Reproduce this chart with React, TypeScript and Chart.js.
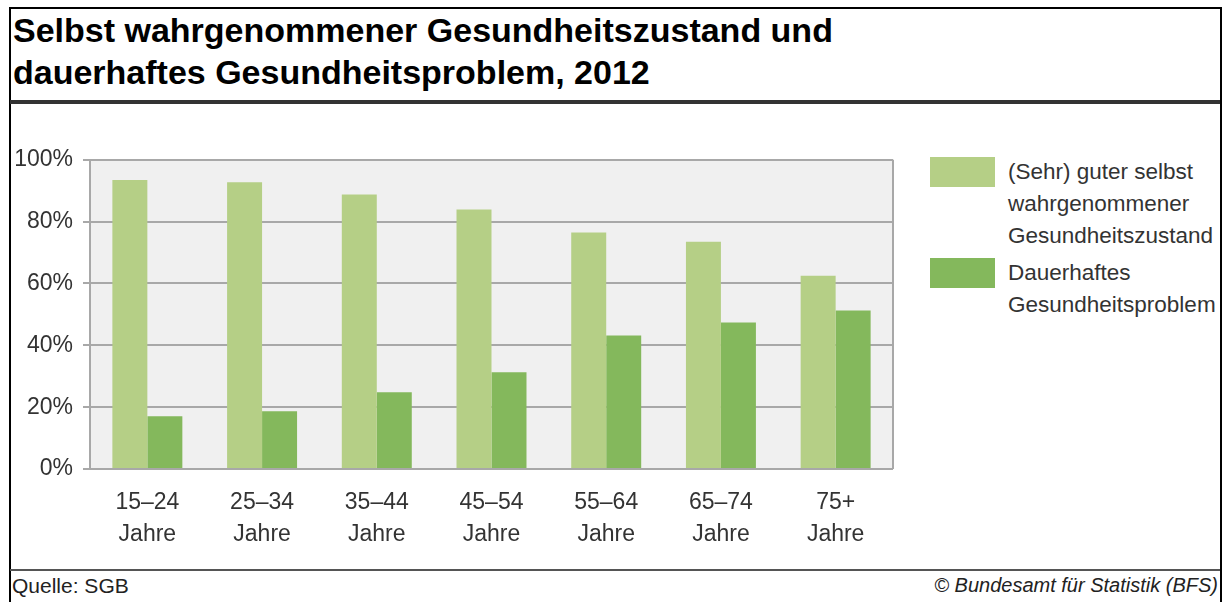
import React, { useEffect, useRef } from "react";
import { Chart, registerables } from "chart.js";

Chart.register(...registerables);

const categories: string[][] = [
  ["15–24", "Jahre"],
  ["25–34", "Jahre"],
  ["35–44", "Jahre"],
  ["45–54", "Jahre"],
  ["55–64", "Jahre"],
  ["65–74", "Jahre"],
  ["75+", "Jahre"],
];
const guterZustand: number[] = [93.5, 92.7, 88.8, 83.9, 76.5, 73.5, 62.5];
const dauerhaftesProblem: number[] = [17.1, 18.7, 24.8, 31.3, 43.2, 47.4, 51.3];
const seriesNames: string[] = [
  "(Sehr) guter selbst wahrgenommener Gesundheitszustand",
  "Dauerhaftes Gesundheitsproblem",
];
const legendLines: string[][] = [
  ["(Sehr) guter selbst", "wahrgenommener", "Gesundheitszustand"],
  ["Dauerhaftes", "Gesundheitsproblem"],
];
const yTicks: number[] = [0, 20, 40, 60, 80, 100];

const LIGHT = "#b5cf86";
const DARK = "#84b85c";
const GRID = "#a8a8a8";
const FONT = "'Liberation Sans', Arial, sans-serif";

const plotBg = {
  id: "plotBg",
  beforeDraw(chart: any) {
    const { ctx, chartArea } = chart;
    ctx.save();
    ctx.fillStyle = "#f0f0f0";
    ctx.fillRect(chartArea.left, chartArea.top, chartArea.right - chartArea.left, chartArea.bottom - chartArea.top);
    ctx.restore();
  },
  beforeDatasetsDraw(chart: any) {
    const { ctx, chartArea } = chart;
    ctx.save();
    ctx.strokeStyle = GRID;
    ctx.lineWidth = 2;
    ctx.beginPath();
    ctx.moveTo(chartArea.right, chartArea.top);
    ctx.lineTo(chartArea.right, chartArea.bottom);
    ctx.stroke();
    ctx.restore();
  },
};

export default function App() {
  const ref = useRef<HTMLCanvasElement | null>(null);
  useEffect(() => {
    document.body.style.margin = "0";
    if (!ref.current) return;
    const chart = new Chart(ref.current, {
      type: "bar",
      data: {
        labels: categories,
        datasets: [
          {
            label: seriesNames[0],
            data: guterZustand,
            backgroundColor: LIGHT,
            categoryPercentage: 0.61,
            barPercentage: 1.0,
          },
          {
            label: seriesNames[1],
            data: dauerhaftesProblem,
            backgroundColor: DARK,
            categoryPercentage: 0.61,
            barPercentage: 1.0,
          },
        ],
      },
      options: {
        animation: false,
        responsive: false,
        maintainAspectRatio: false,
        layout: { padding: { top: 10, right: 7, left: 0, bottom: 0 } },
        plugins: { legend: { display: false }, tooltip: { enabled: false } },
        scales: {
          x: {
            grid: { display: false },
            border: { display: false },
            ticks: {
              color: "#333",
              font: { family: FONT, size: 23, lineHeight: 1.38 },
              padding: 10,
              maxRotation: 0,
              autoSkip: false,
            },
            afterFit(scale: any) {
              scale.height = 91;
            },
          },
          y: {
            min: 0,
            max: 100,
            afterBuildTicks(scale: any) {
              scale.ticks = yTicks.map((v) => ({ value: v }));
            },
            grid: { color: GRID, lineWidth: 2, tickLength: 7, drawTicks: true },
            border: { display: true, color: GRID, width: 2 },
            ticks: {
              color: "#333",
              font: { family: FONT, size: 23 },
              padding: 10,
              callback: (v: any) => `${v}%`,
            },
            afterFit(scale: any) {
              scale.width = 80;
            },
          },
        },
      },
      plugins: [plotBg],
    });
    return () => chart.destroy();
  }, []);

  return (
    <div
      style={{
        position: "absolute",
        left: 0,
        top: 0,
        width: 1228,
        height: 602,
        background: "#fff",
        overflow: "hidden",
        fontFamily: FONT,
      }}
    >
      <div
        style={{
          position: "absolute",
          left: 9,
          top: 7,
          width: 1209,
          height: 620,
          borderLeft: "2px solid #000",
          borderTop: "2px solid #000",
          borderRight: "2px solid #000",
        }}
      />
      <div
        style={{
          position: "absolute",
          left: 13,
          top: 9,
          fontSize: 34,
          fontWeight: "bold",
          lineHeight: "42px",
          color: "#000",
          whiteSpace: "nowrap",
        }}
      >
        <div>Selbst wahrgenommener Gesundheitszustand und</div>
        <div>dauerhaftes Gesundheitsproblem, 2012</div>
      </div>
      <div style={{ position: "absolute", left: 10, top: 100, width: 1210, height: 4, background: "#333" }} />
      <div style={{ position: "absolute", left: 10, top: 569, width: 1210, height: 2, background: "#555" }} />
      <canvas
        ref={ref}
        width={890}
        height={424}
        style={{ position: "absolute", left: 10, top: 136, width: 890, height: 424 }}
      />
      {legendLines.map((lines, i) => (
        <div key={i}>
          <div
            style={{
              position: "absolute",
              left: 930,
              top: i === 0 ? 157 : 258,
              width: 65,
              height: 30,
              background: i === 0 ? LIGHT : DARK,
            }}
          />
          <div
            style={{
              position: "absolute",
              left: 1008,
              top: i === 0 ? 156 : 257,
              fontSize: 22.5,
              lineHeight: "32px",
              color: "#333",
              whiteSpace: "nowrap",
            }}
          >
            {lines.map((l, j) => (
              <div key={j}>{l}</div>
            ))}
          </div>
        </div>
      ))}
      <div style={{ position: "absolute", left: 12, top: 574, fontSize: 21, color: "#222", whiteSpace: "nowrap" }}>
        Quelle: SGB
      </div>
      <div
        style={{
          position: "absolute",
          right: 10,
          top: 574,
          fontSize: 20,
          fontStyle: "italic",
          color: "#222",
          whiteSpace: "nowrap",
        }}
      >
        © Bundesamt für Statistik (BFS)
      </div>
    </div>
  );
}
